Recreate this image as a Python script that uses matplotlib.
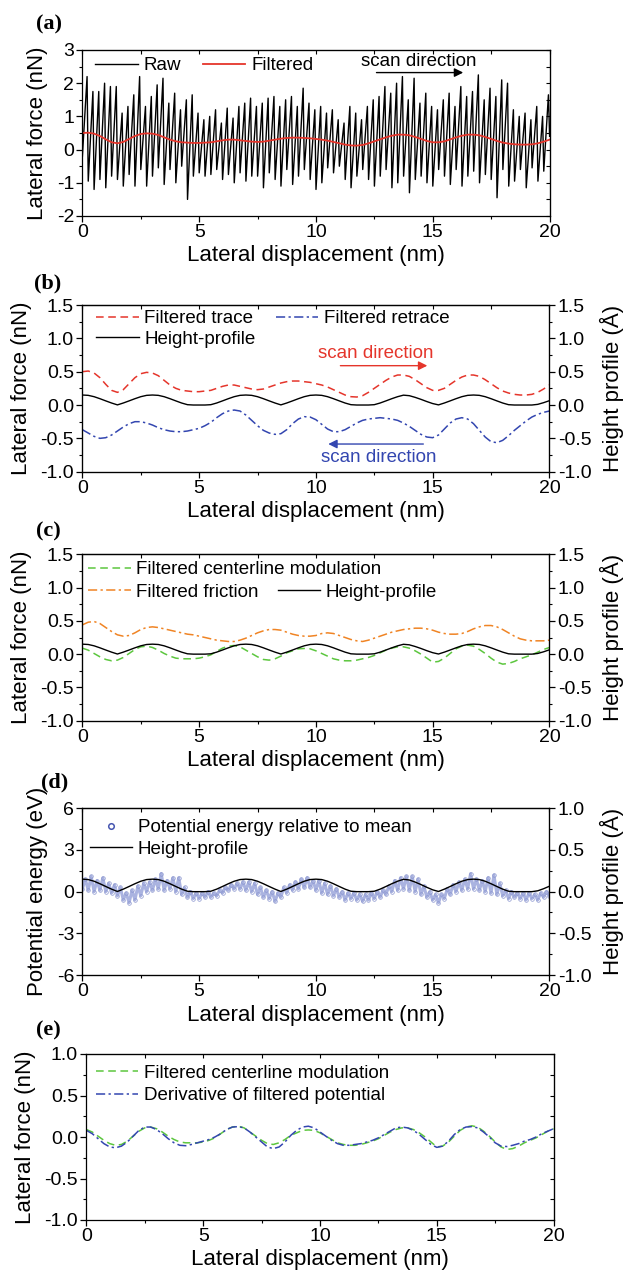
import numpy as np
import matplotlib
matplotlib.use("Agg")
import matplotlib.pyplot as plt
from matplotlib.ticker import MultipleLocator, FormatStrFormatter
from matplotlib.lines import Line2D

plt.rcParams["font.family"] = ["Liberation Sans", "DejaVu Sans"]
plt.rcParams["axes.unicode_minus"] = False

# ---- data ----
# common grid of the filtered curves: 0 .. 20 nm every 0.25 nm
X = np.linspace(0, 20, 81)

HEIGHT = [0.150, 0.145, 0.125, 0.095, 0.062, 0.030, 0.002, 0.030, 0.062, 0.095,
          0.125, 0.145, 0.150, 0.145, 0.125, 0.095, 0.062, 0.030, 0.005, 0.0,
          0.0, 0.0, 0.005, 0.030, 0.062, 0.095, 0.125, 0.145, 0.150, 0.145,
          0.125, 0.095, 0.062, 0.030, 0.002, 0.030, 0.062, 0.095, 0.125, 0.145,
          0.150, 0.145, 0.125, 0.095, 0.062, 0.030, 0.005, 0.0, 0.0, 0.0,
          0.005, 0.030, 0.062, 0.095, 0.125, 0.148, 0.140, 0.115, 0.085, 0.052,
          0.022, 0.002, 0.030, 0.062, 0.095, 0.125, 0.145, 0.150, 0.145, 0.125,
          0.095, 0.062, 0.030, 0.005, 0.0, 0.0, 0.0, 0.0, 0.010, 0.035,
          0.065]

TRACE = [0.50, 0.51, 0.48, 0.41, 0.31, 0.22, 0.19, 0.23, 0.32, 0.41,
         0.47, 0.49, 0.48, 0.44, 0.37, 0.30, 0.25, 0.22, 0.21, 0.20,
         0.20, 0.21, 0.22, 0.25, 0.28, 0.30, 0.30, 0.28, 0.26, 0.24,
         0.23, 0.24, 0.27, 0.30, 0.33, 0.35, 0.36, 0.36, 0.35, 0.34,
         0.32, 0.30, 0.27, 0.23, 0.19, 0.15, 0.125, 0.12, 0.14, 0.19,
         0.25, 0.31, 0.37, 0.42, 0.45, 0.45, 0.43, 0.38, 0.32, 0.26,
         0.22, 0.22, 0.25, 0.31, 0.37, 0.42, 0.45, 0.45, 0.43, 0.38,
         0.32, 0.26, 0.21, 0.18, 0.16, 0.15, 0.15, 0.16, 0.19, 0.24,
         0.30]

RETRACE = [-0.37, -0.42, -0.47, -0.50, -0.49, -0.45, -0.39, -0.33, -0.28, -0.25,
           -0.25, -0.27, -0.30, -0.34, -0.37, -0.39, -0.40, -0.40, -0.39, -0.37,
           -0.35, -0.31, -0.26, -0.19, -0.13, -0.09, -0.075, -0.09, -0.15, -0.23,
           -0.31, -0.38, -0.42, -0.44, -0.43, -0.37, -0.28, -0.21, -0.175, -0.18,
           -0.22, -0.29, -0.36, -0.40, -0.40, -0.37, -0.32, -0.27, -0.23, -0.21,
           -0.20, -0.19, -0.20, -0.21, -0.23, -0.27, -0.32, -0.38, -0.44, -0.48,
           -0.49, -0.45, -0.36, -0.27, -0.21, -0.19, -0.21, -0.28, -0.38, -0.48,
           -0.55, -0.565, -0.53, -0.46, -0.38, -0.31, -0.24, -0.18, -0.14, -0.11,
           -0.09]

FRICTION = [0.44, 0.48, 0.49, 0.46, 0.40, 0.34, 0.29, 0.27, 0.28, 0.32,
            0.37, 0.40, 0.41, 0.40, 0.38, 0.36, 0.34, 0.32, 0.30, 0.29,
            0.27, 0.25, 0.23, 0.21, 0.20, 0.19, 0.19, 0.21, 0.24, 0.28,
            0.32, 0.35, 0.37, 0.37, 0.36, 0.33, 0.30, 0.28, 0.27, 0.27,
            0.28, 0.31, 0.32, 0.31, 0.28, 0.25, 0.22, 0.20, 0.19, 0.21,
            0.24, 0.27, 0.30, 0.33, 0.35, 0.37, 0.38, 0.39, 0.39, 0.38,
            0.36, 0.33, 0.31, 0.30, 0.30, 0.31, 0.34, 0.38, 0.41, 0.43,
            0.43, 0.41, 0.37, 0.32, 0.27, 0.23, 0.21, 0.20, 0.20, 0.20,
            0.21]

CENTERLINE = [0.09, 0.06, 0.01, -0.04, -0.08, -0.10, -0.09, -0.05, 0.01, 0.07,
              0.11, 0.12, 0.10, 0.06, 0.01, -0.03, -0.06, -0.07, -0.07, -0.07,
              -0.06, -0.04, -0.01, 0.04, 0.09, 0.12, 0.13, 0.11, 0.06, 0.01,
              -0.04, -0.08, -0.09, -0.07, -0.03, 0.02, 0.05, 0.08, 0.085, 0.08,
              0.05, 0.01, -0.03, -0.07, -0.09, -0.10, -0.10, -0.09, -0.07, -0.05,
              -0.02, 0.02, 0.06, 0.09, 0.11, 0.11, 0.09, 0.05, 0.00, -0.06,
              -0.12, -0.11, -0.06, 0.01, 0.08, 0.12, 0.135, 0.12, 0.07, 0.01,
              -0.06, -0.12, -0.15, -0.14, -0.11, -0.07, -0.04, -0.01, 0.03, 0.07,
              0.10]

DERIVATIVE = [0.08, 0.04, -0.02, -0.08, -0.12, -0.13, -0.11, -0.06, 0.01, 0.08,
              0.12, 0.12, 0.09, 0.04, -0.02, -0.07, -0.10, -0.105, -0.09, -0.07,
              -0.05, -0.03, 0.00, 0.04, 0.09, 0.12, 0.125, 0.11, 0.06, 0.00,
              -0.06, -0.12, -0.14, -0.12, -0.06, 0.02, 0.08, 0.12, 0.13, 0.11,
              0.06, 0.01, -0.04, -0.08, -0.10, -0.10, -0.09, -0.08, -0.06, -0.04,
              -0.01, 0.03, 0.07, 0.11, 0.12, 0.11, 0.08, 0.03, -0.03, -0.09,
              -0.125, -0.11, -0.05, 0.03, 0.09, 0.12, 0.125, 0.11, 0.06, 0.00,
              -0.07, -0.11, -0.115, -0.10, -0.08, -0.05, -0.03, 0.00, 0.04, 0.07,
              0.10]

# raw stick-slip signal: trough at each lattice step (0.25 nm), peak 0.2 nm later
RAW_TROUGH = [-0.2, -0.95, -1.2, -0.9, -1.15, -0.8, -0.9, -1.1, -0.75, -1.1,
              -0.6, -1.1, -0.8, -0.55, -1.05, -0.6, -1.0, -0.5, -1.5, -0.8,
              -0.7, -0.8, -0.75, -0.6, -0.9, -0.75, -1.0, -0.7, -0.95, -0.8,
              -0.8, -1.15, -0.7, -0.9, -1.1, -0.6, -1.05, -0.8, -0.6, -0.9,
              -1.2, -1.0, -0.55, -0.7, -0.5, -0.9, -1.15, -0.8, -0.6, -0.9,
              -1.1, -0.8, -0.6, -1.15, -1.0, -0.8, -1.3, -0.9, -0.8, -1.0,
              -1.1, -0.6, -0.8, -1.05, -0.6, -1.1, -0.8, -0.65, -1.0, -0.75,
              -0.9, -1.45, -0.6, -1.1, -0.95, -0.6, -1.15, -0.55, -0.95, -0.65,
              0.4]
RAW_PEAK = [2.2, 1.75, 1.75, 2.0, 1.9, 1.9, 1.1, 1.3, 1.65, 2.2,
            1.3, 1.6, 1.95, 2.15, 1.4, 1.7, 1.2, 1.5, 1.65, 1.1,
            0.9, 1.0, 1.2, 0.8, 1.25, 0.95, 1.3, 1.4, 1.55, 1.3,
            1.4, 1.55, 1.6, 1.3, 1.5, 1.6, 1.3, 1.85, 1.4, 1.2,
            1.3, 1.1, 1.2, 0.9, 0.8, 1.3, 1.1, 0.9, 1.3, 1.5,
            1.6, 1.9, 1.7, 2.0, 2.2, 1.5, 2.15, 1.4, 1.7, 1.3,
            1.2, 1.5, 1.7, 1.3, 1.9, 1.6, 1.75, 2.25, 1.5, 1.85,
            1.6, 2.1, 2.0, 1.2, 1.0, 1.1, 0.9, 1.3, 1.0, 1.65]

# potential energy (eV): low at each lattice step, high half a step later
POT_LOW = [0.2, 0.1, 0.0, 0.1, 0.0, -0.1, -0.3, -0.6, -0.8, -0.6,
           -0.3, 0.0, 0.1, 0.2, 0.1, 0.2, 0.0, -0.2, -0.4, -0.5,
           -0.5, -0.4, -0.4, -0.3, -0.1, 0.1, 0.2, 0.2, 0.1, 0.0,
           -0.2, -0.4, -0.5, -0.7, -0.4, -0.1, 0.1, 0.2, 0.3, 0.3,
           0.1, -0.1, -0.2, -0.3, -0.4, -0.6, -0.5, -0.6, -0.7, -0.6,
           -0.5, -0.4, -0.2, 0.0, 0.1, 0.2, 0.1, 0.0, -0.2, -0.4,
           -0.6, -0.8, -0.5, -0.2, 0.0, 0.1, 0.2, 0.2, 0.1, 0.0,
           -0.1, -0.2, -0.3, -0.5, -0.4, -0.5, -0.6, -0.5, -0.6, -0.4,
           -0.3]
POT_HIGH = [0.9, 1.1, 0.8, 1.0, 0.6, 0.5, 0.3, -0.1, 0.1, 0.4,
            0.6, 0.7, 0.9, 1.3, 0.8, 1.0, 1.0, 0.3, 0.0, -0.1,
            -0.1, 0.0, -0.1, 0.1, 0.3, 0.5, 0.6, 0.7, 0.7, 0.6,
            0.3, 0.1, 0.0, -0.1, 0.3, 0.5, 0.7, 0.9, 1.0, 0.8,
            0.8, 0.6, 0.4, 0.2, 0.0, -0.1, -0.1, -0.2, -0.2, -0.1,
            0.0, 0.1, 0.4, 0.8, 1.0, 1.1, 1.1, 0.9, 0.4, 0.0,
            -0.2, -0.2, 0.2, 0.5, 0.7, 0.9, 1.3, 0.9, 0.8, 1.0,
            1.2, 0.6, 0.1, 0.0, -0.1, -0.1, -0.1, -0.2, -0.1, 0.0]

RED = "#e5352b"
BLUE = "#3346b0"
GREEN = "#5cc63e"
ORANGE = "#f08424"
CIRCLE = "#4656b0"

TICK_FS = 14
LABEL_FS = 16
LEG_FS = 13.5

W, H = 630, 1271
fig = plt.figure(figsize=(W / 100, H / 100), dpi=100)


def rect(l, r, t, b):
    return [l / W, 1 - b / H, (r - l) / W, (b - t) / H]


def style(ax, ylim, ymaj, yfmt, mirror_right=True):
    ax.set_xlim(0, 20)
    ax.set_ylim(*ylim)
    ax.xaxis.set_major_locator(MultipleLocator(5))
    ax.xaxis.set_minor_locator(MultipleLocator(2.5))
    ax.yaxis.set_major_locator(MultipleLocator(ymaj))
    ax.yaxis.set_minor_locator(MultipleLocator(ymaj / 2))
    ax.yaxis.set_major_formatter(FormatStrFormatter(yfmt))
    ax.tick_params(which="major", direction="out", length=4, width=0.9,
                   labelsize=TICK_FS, pad=2)
    ax.tick_params(which="minor", direction="out", length=2.5, width=0.8)
    for s in ax.spines.values():
        s.set_linewidth(0.9)
    top = ax.secondary_xaxis("top")
    top.xaxis.set_major_locator(MultipleLocator(2.5))
    top.tick_params(direction="in", length=3, width=0.8, labeltop=False)
    if mirror_right:
        rt = ax.secondary_yaxis("right")
        rt.yaxis.set_major_locator(MultipleLocator(ymaj / 2))
        rt.tick_params(direction="in", length=3, width=0.8, labelright=False)
    ax.set_xlabel("Lateral displacement (nm)", fontsize=LABEL_FS, labelpad=3)


def right_axis(ax, ylim, ymaj, yfmt):
    ax2 = ax.twinx()
    ax2.set_ylim(*ylim)
    ax2.yaxis.set_major_locator(MultipleLocator(ymaj))
    ax2.yaxis.set_minor_locator(MultipleLocator(ymaj / 2))
    ax2.yaxis.set_major_formatter(FormatStrFormatter(yfmt))
    ax2.tick_params(which="major", direction="out", length=4, width=0.9,
                    labelsize=TICK_FS, pad=2)
    ax2.tick_params(which="minor", direction="out", length=2.5, width=0.8)
    ax2.set_ylabel("Height profile (Å)", fontsize=LABEL_FS, labelpad=6)
    return ax2


def panel_label(x, y, s):
    fig.text(x / W, 1 - y / H, s, fontsize=16, fontweight="bold",
             family="Liberation Serif", ha="center", va="center")


def legend(ax, handles, labels, fx, fy, ncol=1, spacing=0.2, colsp=1.1):
    return ax.legend(handles, labels, loc="upper left", bbox_to_anchor=(fx, fy),
                     ncol=ncol, frameon=False, fontsize=LEG_FS, borderpad=0,
                     borderaxespad=0, handlelength=2.25, handletextpad=0.3,
                     labelspacing=spacing, columnspacing=colsp)


DASH = (0, (5, 3))
DASHDOT = (0, (6, 2.2, 1.5, 2.2))

# ---- (a) ----
ax = fig.add_axes(rect(82.4, 549.6, 50, 216))
lat = np.arange(len(RAW_PEAK)) * 0.25
raw_x = np.empty(2 * len(RAW_PEAK) + 1)
raw_y = np.empty_like(raw_x)
raw_x[0::2] = np.append(lat, 20.0)
raw_x[1::2] = lat + 0.2
raw_y[0::2] = RAW_TROUGH
raw_y[1::2] = RAW_PEAK
l_raw, = ax.plot(raw_x, raw_y, color="black", lw=1.0)
l_fil, = ax.plot(X, TRACE, color=RED, lw=1.3)
style(ax, (-2, 3), 1, "%d")
ax.set_ylabel("Lateral force (nN)", fontsize=LABEL_FS, labelpad=6)
legend(ax, [l_raw, l_fil], ["Raw", "Filtered"], 0.028, 0.958, ncol=2, colsp=1.2)
ax.text(14.4, 2.65, "scan direction", fontsize=LEG_FS, ha="center", va="center")
ax.annotate("", xy=(16.42, 2.32), xytext=(12.47, 2.32),
            arrowprops=dict(arrowstyle="-|>", color="black", lw=1.0, mutation_scale=13))
panel_label(49, 24, "(a)")

# ---- (b) ----
ax = fig.add_axes(rect(82.4, 549.4, 305, 471.7))
l_tr, = ax.plot(X, TRACE, color=RED, lw=1.1, linestyle=DASH)
l_re, = ax.plot(X, RETRACE, color=BLUE, lw=1.1, linestyle=DASHDOT)
style(ax, (-1, 1.5), 0.5, "%.1f", mirror_right=False)
ax.set_ylabel("Lateral force (nN)", fontsize=LABEL_FS, labelpad=6)
ax2 = right_axis(ax, (-1, 1.5), 0.5, "%.1f")
l_h, = ax2.plot(X, HEIGHT, color="black", lw=1.0)
legend(ax, [l_tr, l_h, l_re], ["Filtered trace", "Height-profile", "Filtered retrace"],
       0.030, 0.97, ncol=2, spacing=0.18, colsp=1.1)
ax.text(12.56, 0.775, "scan direction", color=RED, fontsize=LEG_FS, ha="center", va="center")
ax.annotate("", xy=(14.89, 0.59), xytext=(10.93, 0.59),
            arrowprops=dict(arrowstyle="-|>", color=RED, lw=1.0, mutation_scale=13))
ax.text(12.68, -0.785, "scan direction", color=BLUE, fontsize=LEG_FS, ha="center", va="center")
ax.annotate("", xy=(10.41, -0.585), xytext=(14.72, -0.585),
            arrowprops=dict(arrowstyle="-|>", color=BLUE, lw=1.0, mutation_scale=13))
panel_label(48, 283, "(b)")

# ---- (c) ----
ax = fig.add_axes(rect(82.4, 549.4, 554.3, 720.7))
l_cl, = ax.plot(X, CENTERLINE, color=GREEN, lw=1.1, linestyle=DASH)
l_fr, = ax.plot(X, FRICTION, color=ORANGE, lw=1.1, linestyle=DASHDOT)
style(ax, (-1, 1.5), 0.5, "%.1f", mirror_right=False)
ax.set_ylabel("Lateral force (nN)", fontsize=LABEL_FS, labelpad=6)
ax2 = right_axis(ax, (-1, 1.5), 0.5, "%.1f")
l_h, = ax2.plot(X, HEIGHT, color="black", lw=1.0)
leg1 = legend(ax, [l_cl], ["Filtered centerline modulation"], 0.013, 0.96)
ax.add_artist(leg1)
legend(ax, [l_fr, l_h], ["Filtered friction", "Height-profile"], 0.013, 0.825,
       ncol=2, colsp=1.0)
panel_label(48, 531, "(c)")

# ---- (d) ----
ax = fig.add_axes(rect(82.4, 549.4, 808.3, 975))
pot_x = np.empty(2 * len(POT_HIGH) + 1)
pot_y = np.empty_like(pot_x)
pot_x[0::2] = np.append(lat, 20.0)
pot_x[1::2] = lat + 0.125
pot_y[0::2] = POT_LOW
pot_y[1::2] = POT_HIGH
# dense open circles merge into a pale band in the reference
ax.plot(pot_x, pot_y, color="#aab3e0", lw=2.2, zorder=1)
ax.plot(pot_x, pot_y, linestyle="none", marker="o", ms=2.6, mfc="none",
        mec="#8b96cf", mew=0.5, zorder=2)
style(ax, (-6, 6), 3, "%d", mirror_right=False)
ax.set_ylabel("Potential energy (eV)", fontsize=LABEL_FS, labelpad=6)
ax2 = right_axis(ax, (-1, 1), 0.5, "%.1f")
l_h, = ax2.plot(X, HEIGHT, color="black", lw=1.0)
h_pot = Line2D([], [], linestyle="none", marker="o", ms=4, mfc="none", mec=CIRCLE, mew=1.1)
legend(ax2, [h_pot, l_h], ["Potential energy relative to mean", "Height-profile"],
       0.016, 0.935, spacing=0.22)
panel_label(55, 782, "(d)")

# ---- (e) ----
ax = fig.add_axes(rect(86.4, 553.6, 1054, 1220))
l_cl, = ax.plot(X, CENTERLINE, color=GREEN, lw=1.1, linestyle=DASH)
l_dv, = ax.plot(X, DERIVATIVE, color=BLUE, lw=1.1, linestyle=DASHDOT)
style(ax, (-1, 1), 0.5, "%.1f")
ax.set_ylabel("Lateral force (nN)", fontsize=LABEL_FS, labelpad=6)
legend(ax, [l_cl, l_dv], ["Filtered centerline modulation", "Derivative of filtered potential"],
       0.021, 0.935, spacing=0.28)
panel_label(48, 1030, "(e)")

fig.savefig("out.png", dpi=100)
